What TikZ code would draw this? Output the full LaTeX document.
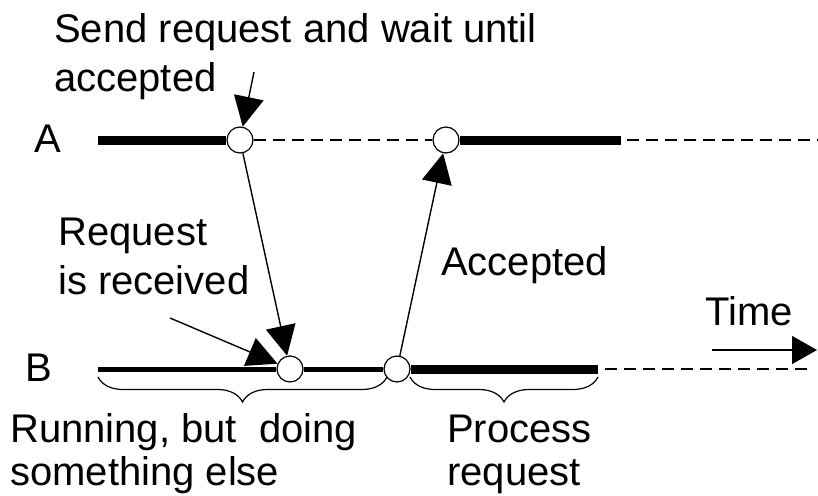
\documentclass[tikz,border=0pt]{standalone}
\usepackage{fontspec}
\setmainfont{Liberation Sans}
\usetikzlibrary{arrows.meta,decorations.pathreplacing}
\begin{document}
\begin{tikzpicture}[x=1pt,y=-1pt,
  lbl/.style={anchor=base west,inner sep=0pt,font=\fontsize{40}{48}\selectfont},
  evt/.style={circle,draw,fill=white,line width=1.2pt,minimum size=26pt,inner sep=0pt},
  thickln/.style={line width=9pt},
  medln/.style={line width=5pt},
  dashln/.style={line width=1.6pt,dash pattern=on 12pt off 7pt},
  msg/.style={line width=1.4pt,-{Triangle[length=30pt,width=30pt]}},
  brc/.style={decorate,decoration={brace,mirror,amplitude=25pt},line width=1.2pt}
]
\useasboundingbox (0,0) rectangle (818,495);

% event circles
\node[evt] (A1) at (240,140) {};
\node[evt] (A2) at (446,140) {};
\node[evt] (B1) at (290,369) {};
\node[evt] (B2) at (397,369) {};

% free ends
\coordinate (a0) at (98,140);
\coordinate (a3) at (621,140);
\coordinate (a4) at (627,140);
\coordinate (a5) at (818,140);
\coordinate (b0) at (98,369);
\coordinate (b3) at (598,369);
\coordinate (b4) at (605,369);
\coordinate (b5) at (812,369);
\coordinate (s0) at (254,72);
\coordinate (r0) at (170,318);
\coordinate (t0) at (712,350);
\coordinate (t1) at (817,350);
\coordinate (br1a) at (98,377);
\coordinate (br1b) at (387,377);
\coordinate (br2a) at (410,377);
\coordinate (br2b) at (598,377);

% time lines
\draw[thickln] (a0) -- (A1);
\draw[dashln] (A1) -- (A2);
\draw[thickln] (A2) -- (a3);
\draw[dashln] (a4) -- (a5);
\draw[medln] (b0) -- (B1);
\draw[medln] (B1) -- (B2);
\draw[thickln] (B2) -- (b3);
\draw[dashln] (b4) -- (b5);

% messages
\draw[msg] (A1) -- (B1);
\draw[msg] (B2) -- (A2);
\draw[msg] (s0) -- (A1);
\draw[msg] (r0) -- (B1);
\draw[line width=1.4pt,-{Triangle[length=25pt,width=28pt]}] (t0) -- (t1);

% braces
\draw[brc] (br1a) -- (br1b);
\draw[brc] (br2a) -- (br2b);

% labels
\node[lbl] (send1) at (54,43) {Send request and wait until};
\node[lbl] (send2) at (54,91) {accepted};
\node[lbl] (la) at (34,152) {A};
\node[lbl] (lb) at (25,381) {B};
\node[lbl] (req1) at (58,245) {Request};
\node[lbl] (req2) at (58,294) {is received};
\node[lbl] (acc) at (441,275) {Accepted};
\node[lbl] (time) at (705,325) {Time};
\node[lbl] (run1) at (10,442) {Running, but\ \ doing};
\node[lbl] (run2) at (10,485) {something else};
\node[lbl] (proc1) at (447,442) {Process};
\node[lbl] (proc2) at (447,485) {request};
\end{tikzpicture}
\end{document}
